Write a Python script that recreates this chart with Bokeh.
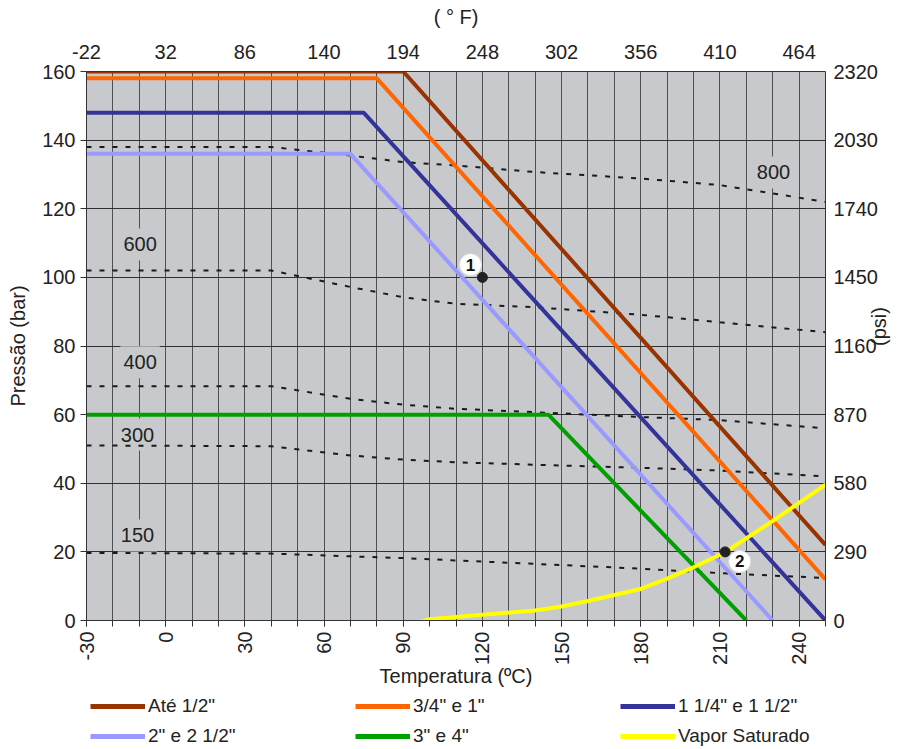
from math import pi
from bokeh.plotting import figure
from bokeh.layouts import column
from bokeh.models import (LinearAxis, Range1d, FixedTicker, Legend, LegendItem, Label)
from bokeh.embed import file_html
from bokeh.resources import INLINE
from bokeh.core.properties import value

FONT = "Liberation Sans"
TXT = "#222222"
BG = "#C8C9CC"
FS = "20px"

# ---------------- data ----------------
temp_ticks = [-30, 0, 30, 60, 90, 120, 150, 180, 210, 240]
temp_grid = list(range(-30, 251, 10))
c_labels = ["-30", "0", "30", "60", "90", "120", "150", "180", "210", "240"]
f_labels = ["-22", "32", "86", "140", "194", "248", "302", "356", "410", "464"]
bar_ticks = [0, 20, 40, 60, 80, 100, 120, 140, 160]
psi_labels = ["0", "290", "580", "870", "1160", "1450", "1740", "2030", "2320"]

ate_t = [-30, 90, 250]
ate_p = [160, 160, 22]
tres4_t = [-30, 80, 250]
tres4_p = [158, 158, 12]
um14_t = [-30, 75, 250]
um14_p = [148, 148, 0]
dois_t = [-30, 70, 230]
dois_p = [136, 136, 0]
tres_t = [-30, 145, 220]
tres_p = [60, 60, 0]
vapor_t = [94.5, 100, 120, 140, 150, 160, 180, 190, 200, 212, 230, 250]
vapor_p = [-0.8, 0.4, 1.7, 2.9, 4.1, 5.7, 9.2, 12.2, 15.5, 19.9, 29.0, 39.6]

class_t = [-30, 40, 70, 90, 110, 140, 180, 210, 250]
class_800 = [138, 138, 135.5, 133.6, 132.6, 130.7, 128.8, 126.9, 122]
class_600 = [102, 102, 97.2, 94.2, 92.3, 91.3, 89.1, 86.9, 84]
class_400 = [68.3, 68.3, 64.6, 62.9, 61.7, 60.7, 59.3, 58.4, 56]
class_300 = [51, 50.8, 48.1, 46.9, 46.1, 45.4, 44.5, 43.7, 42]
class_150 = [19.7, 19.5, 18.7, 18.2, 17.5, 16.5, 15.1, 13.8, 12.4]
class_names = ["800", "600", "400", "300", "150"]
class_label_t = [230.3, -9.7, -9.7, -10.7, -10.7]
class_label_p = [130.6, 109.6, 75.3, 54.2, 24.8]

point_t = [120, 212]
point_p = [100, 20]
callout_t = [115.5, 217.5]
callout_p = [103.7, 17.2]
callout_text = ["1", "2"]

series_names = ['Até 1/2"', '3/4" e 1"', '1 1/4" e 1 1/2"', '2" e 2 1/2"', '3" e 4"', 'Vapor Saturado']
series_colors = ["#993300", "#FF6600", "#333399", "#9999FF", "#00A000", "#FFFF00"]

# ---------------- main figure ----------------
p = figure(frame_width=739, frame_height=549,
           x_range=Range1d(-30, 250), y_range=Range1d(0, 160),
           output_backend="svg", toolbar_location=None,
           min_border_left=86, min_border_top=71, min_border_right=75, min_border_bottom=70,
           background_fill_color=BG, border_fill_color="white",
           outline_line_color=None)

# bottom axis (ºC)
xa = p.xaxis[0]
xa.ticker = FixedTicker(ticks=temp_ticks, minor_ticks=temp_grid)
xa.major_label_overrides = {t: s for t, s in zip(temp_ticks, c_labels)}
xa.major_label_orientation = pi / 2
xa.major_tick_out = 6
xa.major_tick_in = 0
xa.minor_tick_out = 6
xa.minor_tick_in = 0
xa.axis_label = "Temperatura (ºC)"

# left axis (bar)
ya = p.yaxis[0]
ya.ticker = FixedTicker(ticks=bar_ticks)
ya.major_label_overrides = {b: str(b) for b in bar_ticks}
ya.major_tick_out = 6
ya.major_tick_in = 0
ya.axis_label = "Pressão (bar)"

# right axis (psi)
ra = LinearAxis(ticker=FixedTicker(ticks=bar_ticks),
                major_label_overrides={b: s for b, s in zip(bar_ticks, psi_labels)},
                axis_label="(psi)")
ra.major_tick_out = 0
ra.major_tick_in = 0
ra.axis_label_orientation = pi / 2
p.add_layout(ra, "right")

# top axis (ºF)
ta = LinearAxis(ticker=FixedTicker(ticks=temp_ticks),
                major_label_overrides={t: s for t, s in zip(temp_ticks, f_labels)},
                axis_label="( ° F)")
ta.major_tick_out = 0
ta.major_tick_in = 0
p.add_layout(ta, "above")

for ax in [xa, ya, ra, ta]:
    ax.axis_line_color = "#333333"
    ax.major_tick_line_color = "#333333"
    ax.minor_tick_line_color = "#333333" if ax is xa else None
    ax.major_label_text_font = FONT
    ax.major_label_text_font_size = FS
    ax.major_label_text_color = TXT
    ax.axis_label_text_font = FONT
    ax.axis_label_text_font_size = FS
    ax.axis_label_text_font_style = "normal"
    ax.axis_label_text_color = TXT
ta.major_label_standoff = 13
ta.axis_label_standoff = 14
ra.major_label_standoff = 8
ra.axis_label_standoff = -2
ya.major_label_standoff = 5
ya.axis_label_standoff = 10
xa.major_label_standoff = 5
xa.axis_label_standoff = -3

# grids
p.xgrid.ticker = FixedTicker(ticks=temp_grid)
p.xgrid.grid_line_color = "#505050"
p.xgrid.grid_line_width = 1
p.ygrid.ticker = FixedTicker(ticks=bar_ticks)
p.ygrid.grid_line_color = "#303030"
p.ygrid.grid_line_width = 1

# class labels (boxes under the lines)
for name, lt, lp in zip(class_names, class_label_t, class_label_p):
    p.add_layout(Label(x=lt, y=lp, text=name, text_align="center", text_baseline="middle",
                       text_font=FONT, text_font_size=FS, text_color=TXT,
                       background_fill_color=BG, padding=(3, 9), level="underlay"))

# dashed pressure-class lines
for cp in [class_800, class_600, class_400, class_300, class_150]:
    p.line(class_t, cp, line_color="#1a1a1a", line_width=2, line_dash="5 8")

# rating lines
series = [(ate_t, ate_p), (tres4_t, tres4_p), (um14_t, um14_p),
          (dois_t, dois_p), (tres_t, tres_p), (vapor_t, vapor_p)]
for (t, pv), col in zip(series, series_colors):
    p.line(t, pv, line_color=col, line_width=4)

# points and callouts
p.scatter(point_t, point_p, size=10, color="#222222")
p.scatter(callout_t, callout_p, size=22, fill_color="white", line_color="#dddddd", line_width=1)
p.text(callout_t, callout_p, text=callout_text, text_font=value(FONT), text_font_style="bold",
       text_font_size="17px", text_align="center", text_baseline="middle", text_color="#111111")

# ---------------- legend strip ----------------
# the same series are drawn here but outside the visible range; only the legend shows
leg_h = 59
q = figure(width=900, height=leg_h, x_range=Range1d(1000, 1001), y_range=Range1d(1000, 1001),
           output_backend="svg", toolbar_location=None, min_border=0,
           x_axis_type=None, y_axis_type=None, outline_line_color=None,
           background_fill_color="white", border_fill_color="white")
q.xgrid.visible = False
q.ygrid.visible = False
leg_renderers = [q.line(t, pv, line_color=col, line_width=5)
                 for (t, pv), col in zip(series, series_colors)]

# location = bottom-left corner of the legend, in px from the strip frame's bottom-left
legend = Legend(items=[LegendItem(label=n, renderers=[r]) for n, r in zip(series_names, leg_renderers)],
                orientation="horizontal", ncols=3, location=(4, 2))
legend.glyph_width = 55
legend.glyph_height = 20
legend.label_height = 20
legend.label_width = 199
legend.label_standoff = 3
legend.spacing = 8
legend.padding = 0
legend.margin = 0
legend.border_line_color = None
legend.background_fill_alpha = 0
legend.label_text_font = FONT
legend.label_text_font_size = "19px"
legend.label_text_color = TXT
q.add_layout(legend, "center")

layout = column(p, q, spacing=0)
open("out.html", "w").write(file_html(layout, INLINE))
